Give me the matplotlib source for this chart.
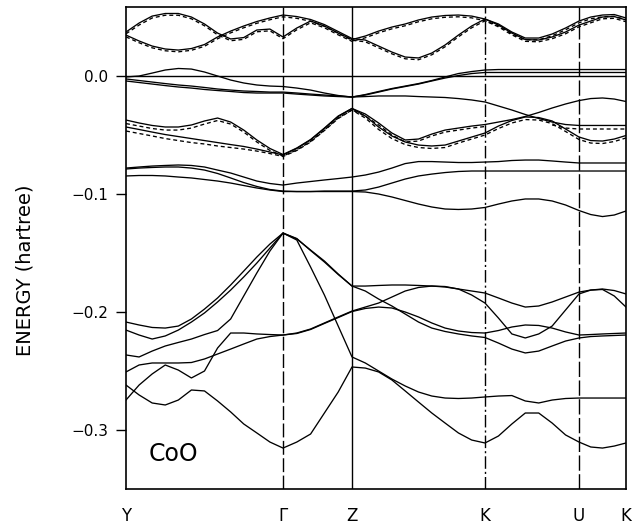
import numpy as np
import matplotlib
matplotlib.use("Agg")
import matplotlib.pyplot as plt

# ---------------- data (energies in milli-hartree) ----------------
sym_labels = ["Y", "Γ", "Z", "K", "U", "K"]
sym_pos = [0.0, 1.57, 2.26, 3.59, 4.53, 5.00]
n_div = [12, 5, 10, 7, 4]

nan = np.nan

A1 = [37.3, 44.9, 50.8, 53.0, 53.0, 50.0, 44.1, 36.4, 31.4, 32.6, 39.0, 39.8, 33.1, 40.7, 46.6, 42.4, 36.4, 30.9,
      33.9, 38.1, 41.5, 44.1, 47.5, 50.0, 51.3, 51.7, 50.8, 48.3,
      44.1, 37.3, 32.2, 32.2, 35.6, 40.7, 46.6, 50.0, 51.7, 52.1, 49.2]
A2 = [34.7, 29.7, 25.4, 22.9, 22.0, 23.3, 26.7, 33.1, 38.1, 42.4, 46.2, 49.2, 51.7, 50.4, 47.9, 43.6, 37.7, 31.8,
      30.5, 25.4, 20.3, 16.1, 15.3, 19.5, 26.3, 34.7, 42.4, 48.3,
      43.2, 36.4, 30.9, 30.5, 33.1, 37.3, 43.2, 46.6, 50.0, 50.4, 47.5]
A1_dash = [35.8, 43.2, 49.2, 51.5, 51.5, 48.5, 42.6, 34.9, 29.9, 31.1, 37.5, 38.3, 31.6, 39.2, 45.1, 40.9, 34.9, 29.4,
           32.4, 36.6, 40.0, 42.6, 46.0, 48.5, 49.8, 50.2, 49.3, 46.8,
           42.6, 35.8, 30.7, 30.7, 34.1, 39.2, 45.1, 48.5, 50.2, 50.6, 47.7]
A2_dash = [33.2, 28.2, 23.9, 21.4, 20.5, 21.8, 25.2, 31.6, 36.6, 40.9, 44.7, 47.7, 50.2, 48.9, 46.4, 42.1, 36.2, 30.3,
           29.0, 23.9, 18.8, 14.6, 13.8, 18.0, 24.8, 33.2, 40.9, 46.8,
           41.7, 34.9, 29.4, 29.0, 31.6, 35.8, 41.7, 45.1, 48.5, 48.9, 46.0]

B1 = [-0.8, 0.0, 2.5, 5.1, 6.4, 5.9, 3.4, 0.0, -3.4, -5.9, -7.6, -8.5, -8.9, -10.2, -11.9, -14.4, -16.5, -17.8,
      -15.7, -13.1, -10.6, -8.5, -6.4, -3.8, -0.8, 2.1, 3.8, 5.1,
      5.5, 5.5, 5.5, 5.5, 5.5, 5.5, 5.5, 5.5, 5.5, 5.5, 5.5]
B2 = [-2.5, -3.8, -5.1, -6.4, -7.6, -8.5, -9.7, -11.0, -11.9, -12.7, -13.1, -13.6, -13.6, -14.4, -15.3, -16.1, -16.9, -17.8,
      -16.1, -13.6, -11.0, -8.9, -6.8, -4.2, -1.7, 0.4, 2.1, 3.0,
      3.0, 3.0, 3.0, 3.0, 3.0, 3.0, 3.0, 3.0, 3.0, 3.0, 3.0]
B3 = [-4.2, -5.5, -6.8, -8.1, -9.3, -10.2, -11.4, -12.3, -13.1, -14.0, -14.4, -14.4, -14.4, -15.3, -16.1, -16.9, -17.4, -17.8,
      -17.4, -16.9, -16.9, -16.9, -17.4, -17.8, -18.2, -19.1, -20.3, -22.0,
      -25.4, -28.8, -32.6, -36.0, -39.0, -41.1, -41.9, -41.9, -41.9, -41.9, -41.9]
B3_dash = [nan] * 32 + [-41.5, -44.1, -44.9, -44.9, -44.9, -44.9, -44.9]

C1 = [-37.3, -39.8, -41.9, -43.2, -43.2, -41.5, -38.1, -35.6, -39.0, -45.8, -54.2, -61.4, -66.5,
      -61.0, -53.8, -44.1, -33.9, -27.5,
      -32.2, -39.8, -48.3, -54.2, -53.4, -49.2, -45.8, -44.1, -42.4, -41.1,
      -39.0, -36.9, -34.3, -30.9, -27.1, -23.7, -20.8, -19.1, -18.6, -19.5, -21.6]
C2 = [-43.2, -45.3, -47.5, -49.6, -51.3, -53.0, -54.7, -56.4, -58.1, -59.7, -61.9, -64.4, -66.9,
      -61.4, -54.2, -44.5, -34.3, -27.5,
      -33.9, -43.2, -50.8, -55.9, -58.5, -59.3, -58.5, -55.1, -51.7, -48.3,
      -42.4, -37.7, -34.7, -35.2, -38.1, -44.9, -51.7, -54.7, -55.1, -53.4, -50.4]
C1_dash = [-40.3, -42.4, -44.5, -45.8, -45.8, -44.1, -40.7, -37.7, -40.7, -47.5, -55.9, -63.1, -67.8,
           -62.7, -55.5, -45.8, -35.6, -28.8,
           -33.9, -41.5, -50.0, -55.9, -55.1, -50.8, -47.5, -45.8, -44.1, -42.8] + [nan] * 11
C2_dash = [-46.6, -48.7, -50.8, -53.0, -54.7, -56.4, -57.6, -59.3, -60.6, -61.9, -63.6, -65.7, -68.2,
           -63.1, -55.9, -46.2, -36.0, -28.8,
           -35.6, -45.3, -53.0, -58.1, -60.6, -61.4, -60.6, -56.8, -53.4, -50.0,
           -44.5, -39.8, -36.9, -37.3, -40.3, -47.0, -53.8, -56.8, -57.2, -55.5, -52.5]

D1 = [-78.0, -77.1, -76.3, -75.8, -75.4, -75.8, -77.1, -79.7, -82.2, -85.6, -89.0, -91.1, -92.4,
      -90.7, -89.4, -88.1, -86.9, -85.6,
      -83.9, -81.4, -78.0, -74.2, -72.5, -72.5, -72.9, -73.3, -73.3, -72.9,
      -72.5, -71.6, -71.2, -71.2, -72.0, -72.9, -73.7, -73.7, -73.7, -73.7, -73.7]
D2 = [-78.8, -78.0, -77.5, -77.1, -77.1, -78.0, -79.7, -82.6, -86.4, -90.3, -93.6, -96.2, -97.5,
      -97.9, -97.9, -97.5, -97.5, -97.5,
      -96.6, -94.1, -90.7, -87.3, -84.7, -83.1, -81.8, -80.9, -80.5, -80.5,
      -80.5, -80.5, -80.5, -80.5, -80.5, -80.5, -80.5, -80.5, -80.5, -80.5, -80.5]
D3 = [-84.7, -84.3, -84.3, -84.7, -85.6, -86.4, -87.7, -89.0, -90.7, -92.8, -94.9, -96.6, -97.9,
      -97.9, -97.9, -97.9, -97.9, -97.9,
      -98.3, -100.0, -102.5, -105.5, -108.5, -111.0, -112.7, -113.1, -112.7, -111.4,
      -108.5, -105.9, -104.2, -104.2, -105.9, -109.3, -114.0, -117.4, -119.1, -117.8, -114.4]

E1 = [-208.5, -211.0, -213.1, -213.6, -211.9, -205.9, -197.5, -188.1, -177.1, -165.3, -153.4, -142.4, -133.1,
      -138.1, -147.5, -156.8, -167.8, -178.0,
      -178.0, -177.5, -177.1, -177.1, -177.5, -178.0, -178.8, -180.5, -182.2, -183.9,
      -188.1, -192.4, -195.8, -194.9, -191.5, -187.3, -183.1, -181.4, -180.5, -181.8, -184.7]
E2 = [-215.3, -219.5, -222.9, -220.3, -215.3, -208.5, -200.8, -191.5, -181.4, -170.3, -158.5, -145.8, -133.1,
      -137.7, -147.9, -157.6, -168.2, -178.0,
      -182.2, -189.0, -194.9, -201.7, -208.5, -213.6, -216.5, -218.6, -220.3, -221.6,
      -226.3, -231.4, -234.7, -233.1, -228.8, -224.6, -222.0, -220.8, -220.3, -219.9, -219.5]
E3 = [-236.4, -238.1, -233.1, -228.8, -225.8, -222.9, -219.1, -215.7, -205.9, -186.4, -166.9, -148.3, -133.1,
      -139.0, -161.9, -185.6, -211.9, -238.1,
      -243.2, -250.0, -256.8, -262.7, -267.8, -271.2, -272.9, -273.3, -272.9, -272.0,
      -271.2, -270.8, -275.4, -277.1, -274.6, -273.3, -272.9, -272.9, -272.9, -272.9, -272.9]
E4 = [-250.8, -244.9, -243.2, -243.2, -243.2, -242.8, -239.8, -235.6, -231.4, -227.1, -222.9, -220.8, -219.5,
      -218.2, -214.8, -209.7, -204.7, -199.6,
      -197.0, -195.8, -196.6, -200.0, -204.2, -209.3, -213.6, -216.1, -217.4, -217.8,
      -215.7, -212.7, -211.0, -211.4, -213.6, -216.9, -219.5, -219.1, -218.6, -218.2, -217.8]
E5 = [-274.6, -261.9, -252.5, -244.9, -249.2, -255.9, -250.0, -230.5, -217.8, -217.8, -218.6, -219.1, -219.5,
      -217.8, -214.4, -209.3, -204.2, -199.2,
      -195.8, -192.4, -187.3, -182.2, -179.2, -178.0, -178.4, -180.5, -185.6, -192.4,
      -205.1, -218.6, -222.0, -218.6, -211.9, -198.3, -184.7, -181.4, -180.9, -186.4, -195.8]
E6 = [-261.9, -270.3, -277.1, -278.8, -274.6, -266.1, -266.9, -275.4, -284.7, -294.9, -302.5, -310.2, -315.3,
      -310.2, -303.4, -285.6, -267.8, -246.6,
      -247.5, -250.8, -257.6, -266.9, -276.3, -285.6, -294.1, -302.5, -308.5, -311.0,
      -305.1, -294.9, -285.6, -285.6, -294.1, -304.2, -310.2, -314.4, -315.3, -313.6, -311.0]

solid_bands = [A1, A2, B1, B2, B3, C1, C2, D1, D2, D3, E1, E2, E3, E4, E5, E6]
dashed_bands = [A1_dash, A2_dash, B3_dash, C1_dash, C2_dash]

ytick_vals = [-0.3, -0.2, -0.1, 0.0]
ytick_text = ["\u22120.3", "\u22120.2", "\u22120.1", "0.0"]

# ---------------- figure ----------------
W, H = 632, 529
fig = plt.figure(figsize=(W / 100, H / 100), dpi=100)
ax = fig.add_axes([126 / W, 1 - 489 / H, 500 / W, 482 / H])

segs = []
for i in range(len(n_div)):
    seg = np.linspace(sym_pos[i], sym_pos[i + 1], n_div[i] + 1)
    segs.append(seg if i == len(n_div) - 1 else seg[:-1])
k = np.concatenate(segs)

for b in solid_bands:
    ax.plot(k, np.array(b) / 1000.0, color="black", lw=0.95, solid_joinstyle="round")
for b in dashed_bands:
    ax.plot(k, np.array(b, dtype=float) / 1000.0, color="black", lw=0.95, dashes=(3.0, 2.2))

# zero line
ax.axhline(0.0, color="black", lw=1.0)

# symmetry lines
styles = {1: (0, (10, 2.5)), 2: "-", 3: (0, (9, 2.2, 1.5, 2.2)), 4: (0, (11, 2.5))}
for i, st in styles.items():
    ax.axvline(sym_pos[i], color="black", lw=1.0, linestyle=st)

ax.set_xlim(sym_pos[0], sym_pos[-1])
ax.set_ylim(-0.35, 0.0585)

ax.set_xticks(sym_pos)
ax.set_xticklabels(sym_labels, fontsize=12, family="DejaVu Sans")
ax.tick_params(axis="x", length=0, pad=13)
ax.set_yticks(ytick_vals)
ax.set_yticklabels(ytick_text, fontsize=11, family="DejaVu Sans")
ax.tick_params(axis="y", direction="out", length=7, width=1.0, pad=6)

for s in ax.spines.values():
    s.set_linewidth(1.2)

ax.text(0.47, -0.3205, "CoO", fontsize=17, ha="center", va="center", family="DejaVu Sans")

fig.text(25 / W, 1 - 270 / H, "ENERGY (hartree)", rotation=90, fontsize=14,
         ha="center", va="center", family="DejaVu Sans")

fig.savefig("out.png", dpi=100)
